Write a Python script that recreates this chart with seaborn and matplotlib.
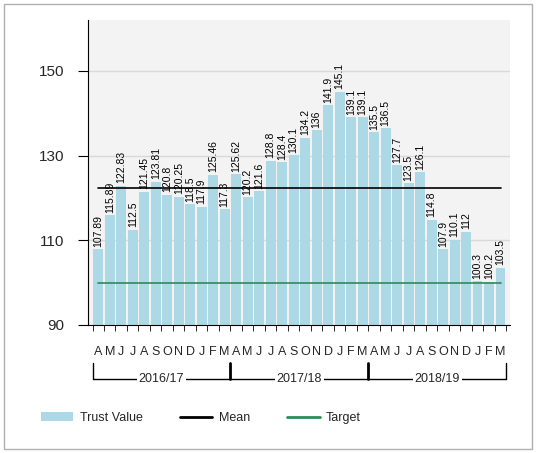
import numpy as np
import pandas as pd
import seaborn as sns
import matplotlib.pyplot as plt
from matplotlib.patches import Rectangle, Patch
from matplotlib.lines import Line2D

# Monthly trust values, Apr 2016 - Mar 2019
months = ['A', 'M', 'J', 'J', 'A', 'S', 'O', 'N', 'D', 'J', 'F', 'M'] * 3
values = [107.89, 115.89, 122.83, 112.5, 121.45, 123.81, 120.8, 120.25, 118.5, 117.9, 125.46, 117.3,
          125.62, 120.2, 121.6, 128.8, 128.4, 130.1, 134.2, 136.0, 141.9, 145.1, 139.1, 139.1,
          135.5, 136.5, 127.7, 123.5, 126.1, 114.8, 107.9, 110.1, 112.0, 100.3, 100.2, 103.5]
years = ['2016/17', '2017/18', '2018/19']
mean_value = 122.4
target_value = 100

df = pd.DataFrame({'idx': range(len(values)), 'value': values})

sns.set_style('white')
plt.rcParams['font.family'] = ['Liberation Sans', 'DejaVu Sans']

fig = plt.figure(figsize=(5.36, 4.53), dpi=100)
fig.patches.append(Rectangle((0.008, 0.008), 0.984, 0.984, transform=fig.transFigure,
                             fill=False, edgecolor='#b0b0b0', linewidth=1))
ax = fig.add_axes([0.164, 0.2826, 0.787, 0.673])
ax.set_facecolor('#f3f3f3')

sns.barplot(data=df, x='idx', y='value', color='#add8e6', saturation=1,
            width=0.86, ax=ax, zorder=2, edgecolor='none')

n = len(values)
ax.plot([0, n - 1], [mean_value, mean_value], color='black', linewidth=1.2, zorder=3)
ax.plot([0, n - 1], [target_value, target_value], color='#2e8b57', linewidth=1.2, zorder=3)

for i, v in enumerate(values):
    ax.text(i, v + 0.6, f'{v:g}', rotation=90, ha='center', va='bottom',
            fontsize=7.5, color='black', zorder=4)

ax.set_ylim(90, 162)
ax.set_xlim(-0.9, n - 0.2)
ax.set_yticks([90, 110, 130, 150])
ax.yaxis.grid(True, color='#d9d9d9', linewidth=1, zorder=0)
ax.set_axisbelow(True)
ax.tick_params(axis='y', labelsize=11, length=7, direction='out', left=True,
               color='black', pad=10)

ax.set_xticks(range(n))
ax.set_xticklabels(months, fontsize=9)
ax.tick_params(axis='x', length=0, pad=15)
ax.set_xticks(np.arange(-0.5, n, 1), minor=True)
ax.tick_params(axis='x', which='minor', length=4, direction='out', bottom=True, color='black')
ax.set_xlabel('')
ax.set_ylabel('')

for s in ['top', 'right']:
    ax.spines[s].set_visible(False)
ax.spines['left'].set_color('black')
ax.spines['bottom'].set_color('black')

# year brackets under month labels
tr = ax.get_xaxis_transform()
yb, yt = -0.178, -0.125
ax.plot([-0.45, n - 0.55], [yb, yb], color='black', linewidth=1, transform=tr, clip_on=False)
for x in [-0.45, n - 0.55]:
    ax.plot([x, x], [yb, yt], color='black', linewidth=1, transform=tr, clip_on=False)
for x in [11.5, 23.5]:
    ax.plot([x, x], [yb, yt], color='black', linewidth=2, transform=tr, clip_on=False)
for k, yr in enumerate(years):
    ax.text(12 * k + 5.5, yb, yr, ha='center', va='center', fontsize=9, transform=tr,
            bbox=dict(facecolor='white', edgecolor='none', pad=1.5))

handles = [Patch(facecolor='#add8e6', edgecolor='none'),
           Line2D([], [], color='black', linewidth=2),
           Line2D([], [], color='#2e8b57', linewidth=2)]
fig.legend(handles, ['Trust Value', 'Mean', 'Target'], loc='center', ncol=3,
           bbox_to_anchor=(0.375, 0.077), frameon=False, fontsize=9,
           handlelength=2.6, columnspacing=3.0, handletextpad=0.5)

fig.savefig('out.png', dpi=100)
